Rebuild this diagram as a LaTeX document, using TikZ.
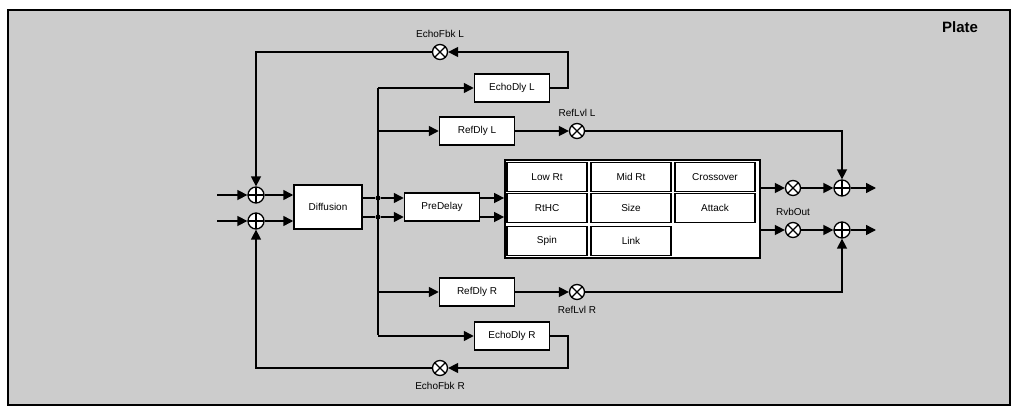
\documentclass[tikz,border=0pt]{standalone}
\usepackage{fontspec}
\setmainfont{Liberation Sans}
\usetikzlibrary{arrows.meta}
\begin{document}
\begin{tikzpicture}[x=1pt,y=-1pt,
  box/.style={draw,line width=1.5pt,fill=white,minimum height=28pt,inner sep=2pt,font=\fontsize{10}{11}\selectfont},
  cell/.style={draw,line width=1.3pt,fill=white,minimum width=80pt,minimum height=29pt,font=\fontsize{10}{11}\selectfont},
  mul/.style={circle,draw,line width=1.3pt,fill=white,minimum size=15pt,inner sep=0pt,path picture={\draw[line width=1.3pt] (path picture bounding box.south west)--(path picture bounding box.north east) (path picture bounding box.north west)--(path picture bounding box.south east);}},
  sum/.style={circle,draw,line width=1.3pt,fill=white,minimum size=16pt,inner sep=0pt,path picture={\draw[line width=1.3pt] (path picture bounding box.south)--(path picture bounding box.north) (path picture bounding box.west)--(path picture bounding box.east);}},
  lab/.style={font=\fontsize{10}{11}\selectfont},
  w/.style={line width=1.5pt},
  a/.style={w,-{Triangle[length=10pt,width=10pt]}},
  dot/.style={circle,fill,inner sep=0pt,minimum size=5pt}]
\useasboundingbox (0,0) rectangle (1015,412);
\draw[fill={rgb,255:red,204;green,204;blue,204},line width=1.8pt] (8,10) rectangle (1010,405);
\node[font=\bfseries\fontsize{15}{16}\selectfont] (plate) at (960,27) {Plate};
% left summers
\node[sum] (sT) at (256,195) {};
\node[sum] (sB) at (256,221) {};
\coordinate (inT) at (217,195); \coordinate (inB) at (217,221);
\draw[a] (inT) -- (sT); \draw[a] (inB) -- (sB);
\node[box,minimum width=68pt,minimum height=44pt] (dif) at (328,207) {Diffusion};
\draw[a] (sT) -- (dif.west|-sT); \draw[a] (sB) -- (dif.west|-sB);
\node[box,minimum width=75pt] (pre) at (442,207) {PreDelay};
\node[dot] (dT) at (378,198) {}; \node[dot] (dB) at (378,217) {};
\draw[w] (dif.east|-dT) -- (dT); \draw[w] (dif.east|-dB) -- (dB);
\draw[a] (dT) -- (pre.west|-dT); \draw[a] (dB) -- (pre.west|-dB);
% matrix
\node[draw,line width=1.8pt,fill=white,minimum width=255pt,minimum height=98pt] (mx) at (632.5,209) {};
\node[cell] (c11) at (547,177) {Low Rt};
\node[cell] (c12) at (631,177) {Mid Rt};
\node[cell] (c13) at (715,177) {Crossover};
\node[cell] (c21) at (547,208) {RtHC};
\node[cell] (c22) at (631,208) {Size};
\node[cell] (c23) at (715,208) {Attack};
\node[cell] (c31) at (547,241) {Spin};
\node[cell] (c32) at (631,241) {Link};
\draw[a] (pre.east|-dT) -- (mx.west|-dT); \draw[a] (pre.east|-dB) -- (mx.west|-dB);
% delays
\coordinate (vt) at (378,88); \coordinate (vb) at (378,335);
\draw[w] (vt) -- (vb);
\node[box,minimum width=75pt] (edL) at (512,88) {EchoDly L};
\node[box,minimum width=75pt] (rdL) at (477,131) {RefDly L};
\node[box,minimum width=75pt] (rdR) at (477,292) {RefDly R};
\node[box,minimum width=75pt] (edR) at (512,336) {EchoDly R};
\draw[a] (vt) -- (edL); \draw[a] (378,131) -- (rdL);
\draw[a] (378,292) -- (rdR); \draw[a] (378,336) -- (edR);
% echo feedback
\node[mul] (efL) at (440,52) {}; \node[lab,above=3pt] at (efL.north) {EchoFbk L};
\node[mul] (efR) at (440,368) {}; \node[lab,below=3pt] at (efR.south) {EchoFbk R};
\draw[a] (edL.east) -| (568,52) -- (efL);
\draw[a] (efL) -| (sT);
\draw[a] (edR.east) -| (568,368) -- (efR);
\draw[a] (efR) -| (sB);
% ref levels
\node[mul] (rlL) at (577,131) {}; \node[lab,above=3pt] at (rlL.north) {RefLvl L};
\node[mul] (rlR) at (577,292) {}; \node[lab,below=3pt] at (rlR.south) {RefLvl R};
\draw[a] (rdL) -- (rlL); \draw[a] (rdR) -- (rlR);
% outputs
\node[mul] (oT) at (793,188) {}; \node[mul] (oB) at (793,230) {};
\node[lab] (rvb) at (793,212) {RvbOut};
\node[sum] (sOT) at (842,188) {}; \node[sum] (sOB) at (842,230) {};
\draw[a] (mx.east|-oT) -- (oT); \draw[a] (mx.east|-oB) -- (oB);
\draw[a] (oT) -- (sOT); \draw[a] (oB) -- (sOB);
\coordinate (xT) at (876,188); \coordinate (xB) at (876,230);
\draw[a] (sOT) -- (xT); \draw[a] (sOB) -- (xB);
\draw[a] (rlL) -| (sOT); \draw[a] (rlR) -| (sOB);
\end{tikzpicture}
\end{document}
